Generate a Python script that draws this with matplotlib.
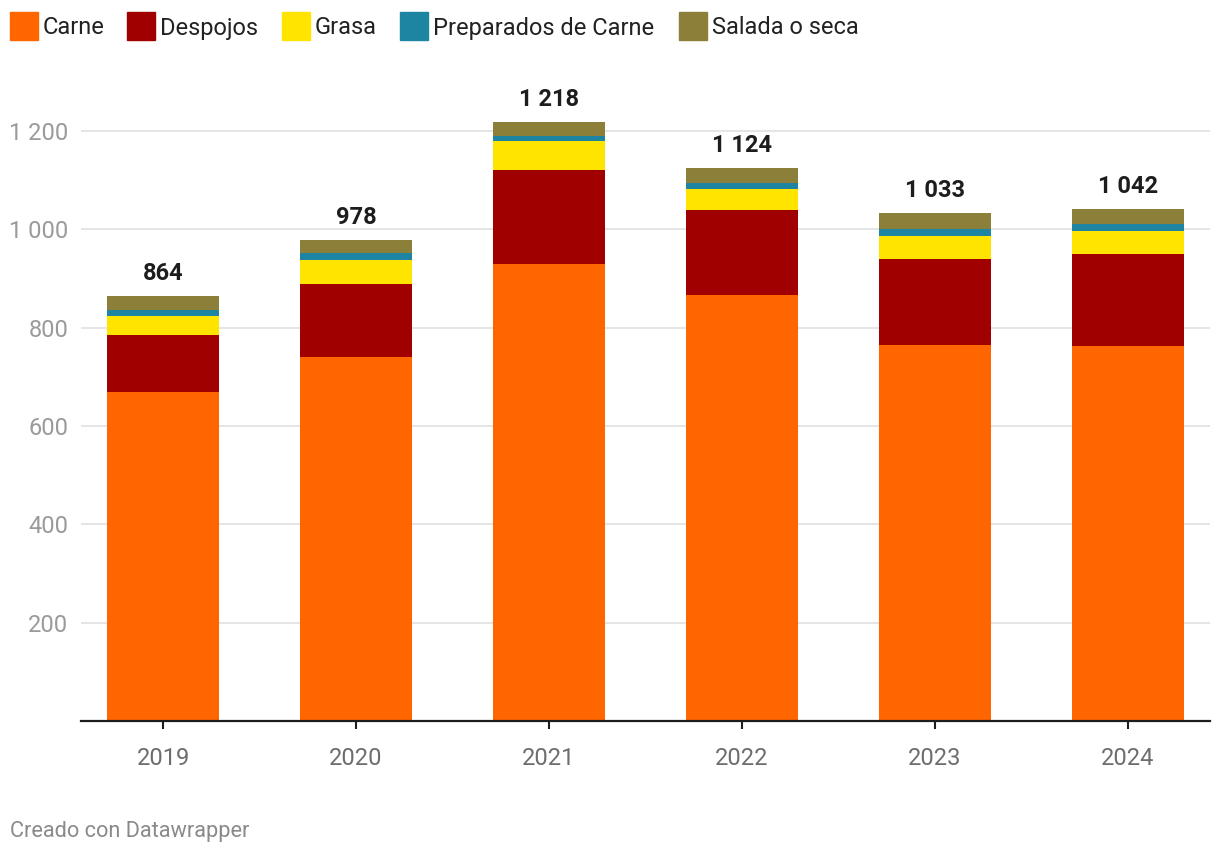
import numpy as np
import matplotlib.pyplot as plt
from matplotlib.patches import Rectangle

plt.rcParams['font.family'] = ['Roboto', 'DejaVu Sans']

years = ['2019', '2020', '2021', '2022', '2023', '2024']
carne = [669, 740, 929, 866, 765, 763]
despojos = [116, 149, 192, 173, 175, 187]
grasa = [39, 48, 59, 43, 46, 47]
preparados = [12, 14, 10, 12, 15, 14]
salada = [28, 27, 28, 30, 32, 31]
totals = [864, 978, 1218, 1124, 1033, 1042]

series = [
    ('Carne', carne, '#ff6600'),
    ('Despojos', despojos, '#a00000'),
    ('Grasa', grasa, '#ffe400'),
    ('Preparados de Carne', preparados, '#1d85a2'),
    ('Salada o seca', salada, '#8b7f3a'),
]

fig = plt.figure(figsize=(12.2, 8.56), dpi=100)
ax = fig.add_axes([81 / 1220, 135 / 856, 1129 / 1220, 614.6 / 856])

x = np.arange(len(years))
bottom = np.zeros(len(years))
for name, vals, color in series:
    ax.bar(x, vals, width=0.58, bottom=bottom, color=color, zorder=3)
    bottom += np.array(vals)

def fmt(v):
    return f'{v:,}'.replace(',', ' ')

for xi, t in zip(x, totals):
    ax.annotate(fmt(t), (xi, t), xytext=(0, 8), textcoords='offset points',
                ha='center', va='bottom', fontsize=17, fontweight='bold', color='#1d1d1d')

ax.set_xlim(-0.425, 5.425)
ax.set_ylim(0, 1250)
yt = [200, 400, 600, 800, 1000, 1200]
ax.set_yticks(yt)
ax.set_yticklabels([fmt(v) for v in yt])
ax.set_xticks(x)
ax.set_xticklabels(years)

ax.grid(axis='y', color='#e3e3e3', linewidth=1.3, zorder=0)
ax.tick_params(axis='y', length=0, pad=9, labelsize=17, labelcolor='#9a9a9a')
ax.tick_params(axis='x', length=6, width=1.5, color='#1d1d1d', pad=13,
               labelsize=17, labelcolor='#6d6d6d')
for s in ['top', 'right', 'left']:
    ax.spines[s].set_visible(False)
ax.spines['bottom'].set_linewidth(1.6)
ax.spines['bottom'].set_color('#1d1d1d')
ax.spines['bottom'].set_zorder(4)

# legend along the top
legend_x = [10, 127, 282, 400, 679]
for (name, vals, color), lx in zip(series, legend_x):
    fig.add_artist(Rectangle((lx / 1220, (856 - 40) / 856), 28 / 1220, 28 / 856,
                             transform=fig.transFigure, color=color))
    fig.text((lx + 33) / 1220, (856 - 28) / 856, name, fontsize=17,
             color='#222222', va='center', ha='left')

fig.text(10 / 1220, (856 - 831) / 856, 'Creado con Datawrapper', fontsize=15.7,
         color='#8a8a8a', va='center', ha='left')

fig.savefig('out.png', dpi=100)
